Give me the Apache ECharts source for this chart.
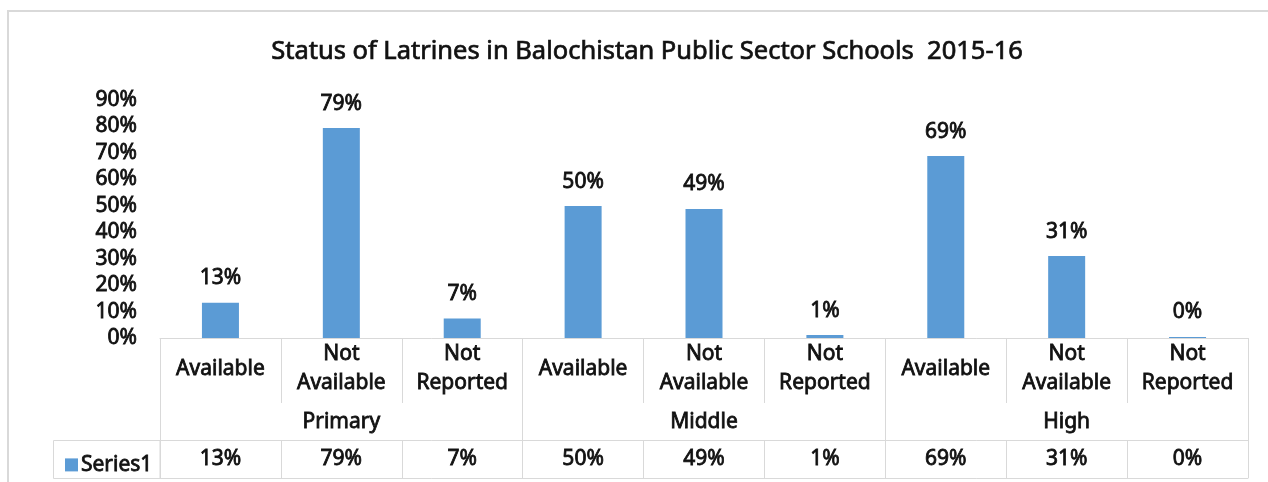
<!DOCTYPE html>
<html>
<head>
<meta charset="utf-8">
<script src="https://cdn.jsdelivr.net/npm/echarts@6/dist/echarts.min.js"></script>
<style>
  html, body { margin: 0; padding: 0; background: #ffffff; overflow: hidden; }
  #frame { position: absolute; left: 7px; top: 10px; width: 1300px; height: 520px; border: 2px solid #d9d9d9; box-sizing: border-box; }
  #chart { position: absolute; left: 0; top: 0; width: 1268px; height: 482px; }
</style>
</head>
<body>
<div id="frame"></div>
<div id="chart"></div>
<script>
// ---- data ----
const subCategories = ['Available', 'Not\nAvailable', 'Not\nReported',
                       'Available', 'Not\nAvailable', 'Not\nReported',
                       'Available', 'Not\nAvailable', 'Not\nReported'];
const groups = ['Primary', 'Middle', 'High'];
const seriesName = 'Series1';
const values = [13.3, 79.4, 7.4, 49.9, 48.8, 1.1, 68.8, 31.0, 0.4];
const yTicks = { min: 0, max: 90, interval: 10 };

const pct = v => Math.round(v) + '%';
const tableRow = values.map(pct);

const FONT = 'Noto Sans';
const FS = 21;
const GRID_LINE = '#d9d9d9';
const TXT = '#111111';
const txt = (extra) => Object.assign({
  fontFamily: FONT, fontSize: FS, fontWeight: 'normal', color: TXT,
  textBorderColor: TXT, textBorderWidth: 0.8
}, extra || {});

const chart = echarts.init(document.getElementById('chart'), null, { renderer: 'canvas' });

const option = {
  backgroundColor: 'transparent',
  animation: false,
  textStyle: { fontFamily: FONT },
  title: {
    text: 'Status of Latrines in Balochistan Public Sector Schools  2015-16',
    left: 642, top: 34, textAlign: 'center',
    textStyle: txt({ fontSize: 25.5, textBorderWidth: 0.7 })
  },
  legend: {
    data: [seriesName],
    left: 60, top: 449,
    icon: 'rect', itemWidth: 13, itemHeight: 13,
    textStyle: txt({ padding: [0, 0, 0, -2] }),
    selectedMode: false
  },
  grid: { left: 160, right: 20, top: 100, bottom: 144, containLabel: false },
  xAxis: [
    {
      type: 'category', data: subCategories, position: 'bottom',
      axisLine: { show: true, lineStyle: { color: GRID_LINE, width: 1 } },
      axisTick: { show: true, length: 65, interval: 0, lineStyle: { color: GRID_LINE } },
      axisLabel: txt({ interval: 0, margin: 31, verticalAlign: 'middle', lineHeight: 29 })
    },
    {
      type: 'category', data: groups, position: 'bottom', offset: 65,
      axisLine: { show: false },
      axisTick: { show: true, length: 37, interval: 0, lineStyle: { color: GRID_LINE } },
      axisLabel: txt({ interval: 0, margin: 19, verticalAlign: 'middle' })
    },
    {
      type: 'category', data: tableRow, position: 'bottom', offset: 102,
      axisLine: { show: true, lineStyle: { color: GRID_LINE, width: 1 } },
      axisTick: { show: true, length: 38, interval: 0, lineStyle: { color: GRID_LINE } },
      axisLabel: txt({ interval: 0, margin: 19, verticalAlign: 'middle' })
    },
    {
      type: 'category', data: tableRow, position: 'bottom', offset: 140,
      axisLine: { show: true, lineStyle: { color: GRID_LINE, width: 1 } },
      axisTick: { show: false },
      axisLabel: { show: false }
    }
  ],
  yAxis: {
    type: 'value', min: yTicks.min, max: yTicks.max, interval: yTicks.interval,
    axisLine: { show: false }, axisTick: { show: false }, splitLine: { show: false },
    axisLabel: txt({ formatter: '{value}%', margin: 23 })
  },
  graphic: [
    { type: 'rect', shape: { x: 53.5, y: 440.5, width: 106.5, height: 38 },
      style: { fill: 'none', stroke: GRID_LINE, lineWidth: 1 }, silent: true, z: 0 }
  ],
  series: [
    {
      name: seriesName, type: 'bar', xAxisIndex: 0, data: values,
      barWidth: 37,
      itemStyle: { color: '#5b9bd5' },
      label: txt({ show: true, position: 'top', distance: 14,
               formatter: p => pct(p.value) })
    }
  ]
};
chart.setOption(option);
</script>
</body>
</html>
